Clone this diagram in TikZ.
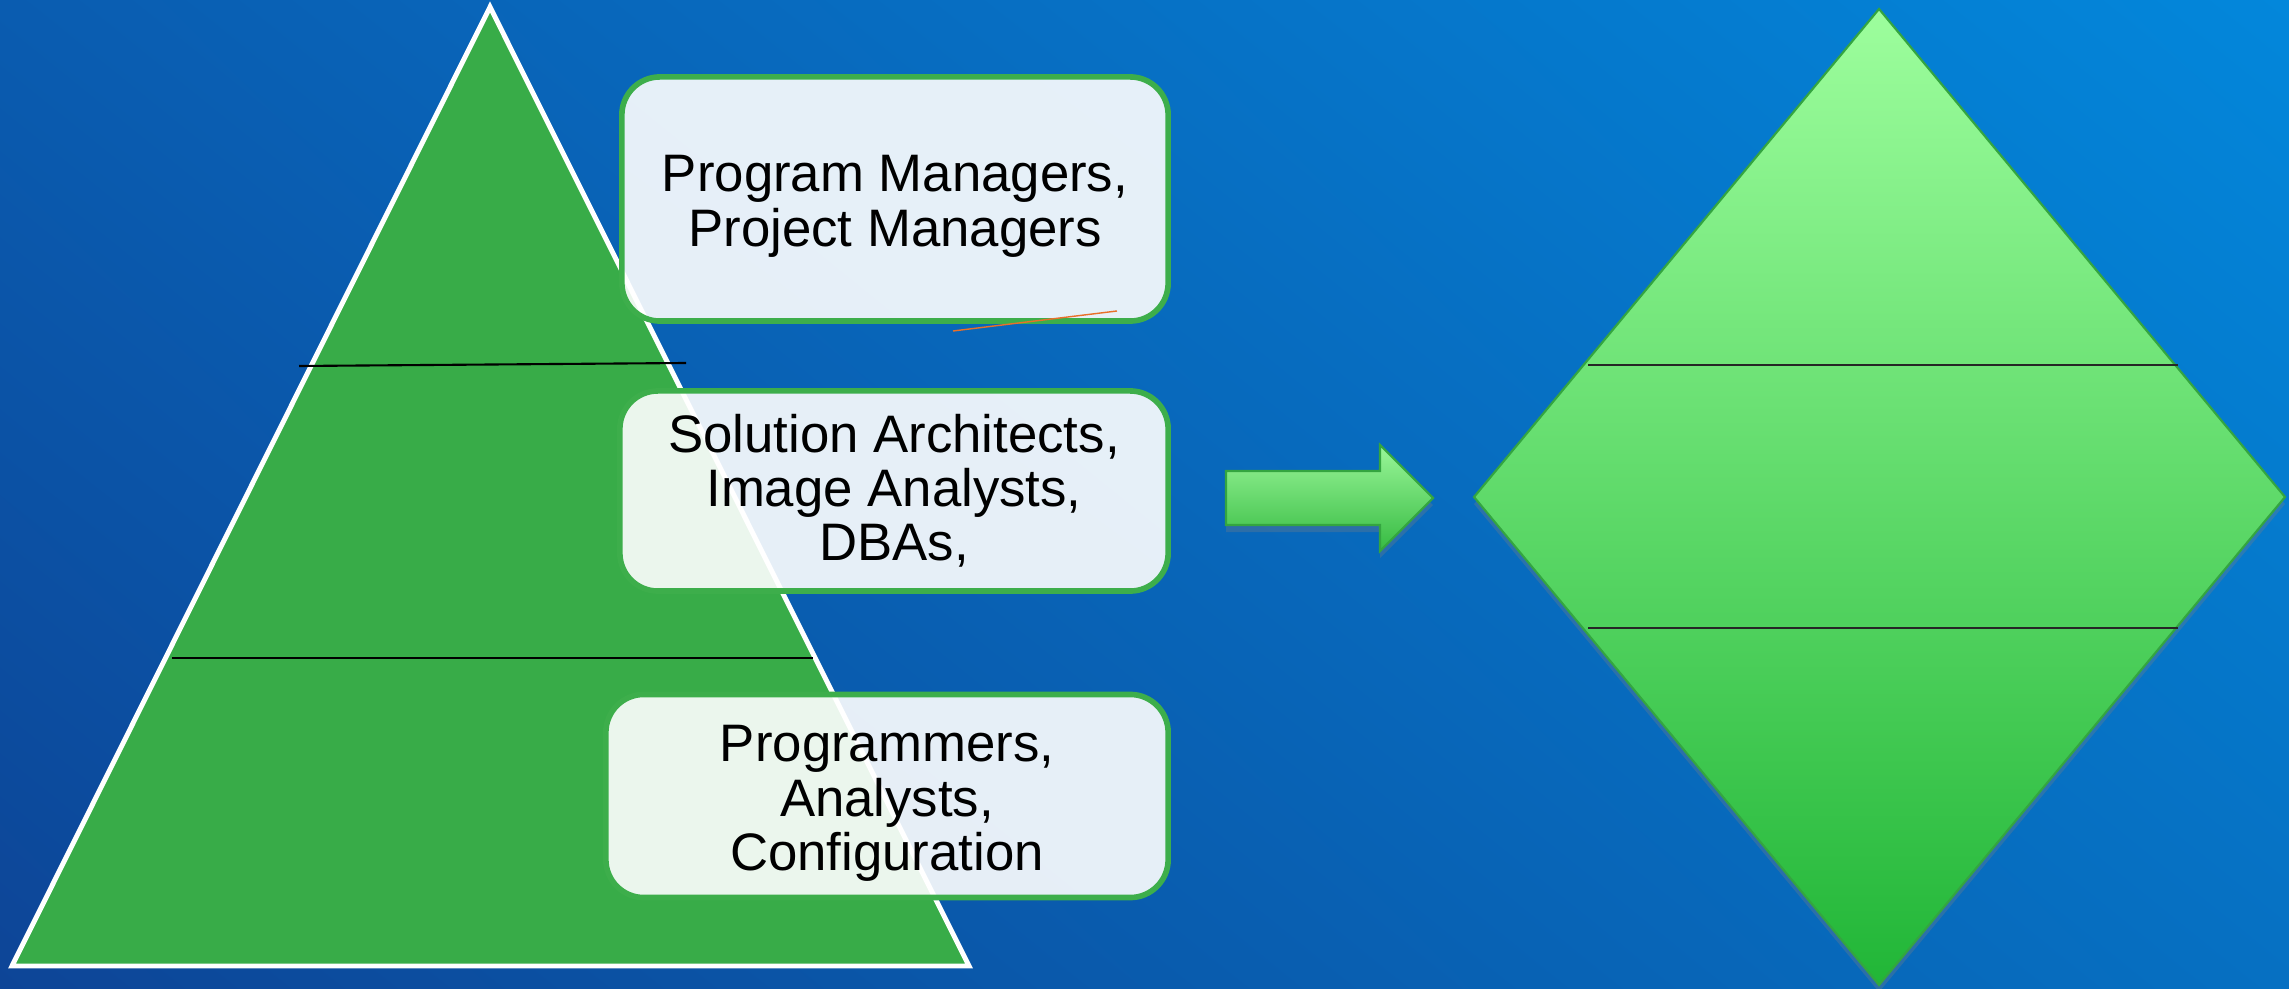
\documentclass[tikz,border=0pt]{standalone}
\usepackage{fontspec}
\setmainfont{Liberation Sans}
\usetikzlibrary{positioning, shadows}
\definecolor{pyramid}{HTML}{38AC48}
\definecolor{boxedge}{HTML}{3DAE4B}
\definecolor{gemtop}{HTML}{9DFE9D}
\definecolor{gembot}{HTML}{21B637}
\definecolor{gemedge}{HTML}{34A540}
\definecolor{arrtop}{HTML}{9AF699}
\definecolor{arrbot}{HTML}{36BB42}
\definecolor{stray}{HTML}{E8702A}
% blue backdrop, darker at lower left, lighter at upper right
\pgfdeclarefunctionalshading{backdrop}{\pgfpoint{0bp}{0bp}}{\pgfpoint{100bp}{100bp}}{}{
	50 div 0.5 sub exch 50 div 0.5 sub exch
	2 copy -0.0118 mul exch -0.0275 mul add 0.051 add 3 1 roll
	2 copy 0.0902 mul exch 0.1686 mul add 0.2706 add 3 1 roll
	0.098 mul exch 0.1686 mul add 0.5922 add
}
\newcommand{\headroom}{\rule{0pt}{14.5pt}}
\tikzset{
	role/.style={rectangle, draw=boxedge, line width=1.6pt, fill=white,
		fill opacity=0.9, text opacity=1, rounded corners=0.38cm,
		align=center, inner sep=0pt, font=\fontsize{15}{15.4}\selectfont},
	divider/.style={draw=black, line width=0.6pt},
	gemline/.style={draw=black!85, line width=0.45pt},
	shadowed/.style={drop shadow={opacity=0.3, shadow xshift=0pt, shadow yshift=-2pt}},
}

\begin{document}
\begin{tikzpicture}[x=0.01cm, y=-0.01cm]

\shade[shading=backdrop] (0,0) rectangle (2289,989);
\useasboundingbox (0,0) rectangle (2289,989);

	%pyramid
\coordinate (top) at (490,7);
\coordinate (bl) at (12,966);
\coordinate (br) at (969,966);
\filldraw[fill=pyramid, draw=white, line width=1.4pt] (top) -- (bl) -- (br) -- cycle;

\coordinate (c1l) at (299,366);
\coordinate (c1r) at (686,363);
\coordinate (c2l) at (172,658);
\coordinate (c2r) at (813,658);
\path [divider] (c1l) -- (c1r);
\path [divider] (c2l) -- (c2r);

\node [role, minimum width=5.46cm, minimum height=2.44cm] at (895,199) (pm)
	{\headroom Program Managers,\\Project Managers};
\node [role, minimum width=5.48cm, minimum height=2.00cm] at (894,491) (sa)
	{Solution Architects,\\Image Analysts,\\DBAs,};
\node [role, minimum width=5.62cm, minimum height=2.03cm] at (887,796) (pg)
	{\headroom Programmers,\\Analysts,\\Configuration};

\coordinate (s1) at (953,331);
\coordinate (s2) at (1117,311);
\draw [stray, line width=0.4pt] (s1) -- (s2);

	%arrow
\draw [shadowed, top color=arrtop, bottom color=arrbot, draw=gemedge, line width=0.6pt]
	(1226,471) -- (1380,471) -- (1380,445) -- (1433,498) -- (1380,551)
	-- (1380,525) -- (1226,525) -- cycle;

	%diamond
\coordinate (gt) at (1879,9);
\coordinate (gr) at (2285,497);
\coordinate (gb) at (1879,985);
\coordinate (gl) at (1474,497);
\draw [shadowed, top color=gemtop, bottom color=gembot, draw=gemedge, line width=0.6pt]
	(gt) -- (gr) -- (gb) -- (gl) -- cycle;

\coordinate (g1l) at (1588,365);
\coordinate (g1r) at (2178,365);
\coordinate (g2l) at (1588,628);
\coordinate (g2r) at (2178,628);
\path [gemline] (g1l) -- (g1r);
\path [gemline] (g2l) -- (g2r);

\end{tikzpicture}
\end{document}
